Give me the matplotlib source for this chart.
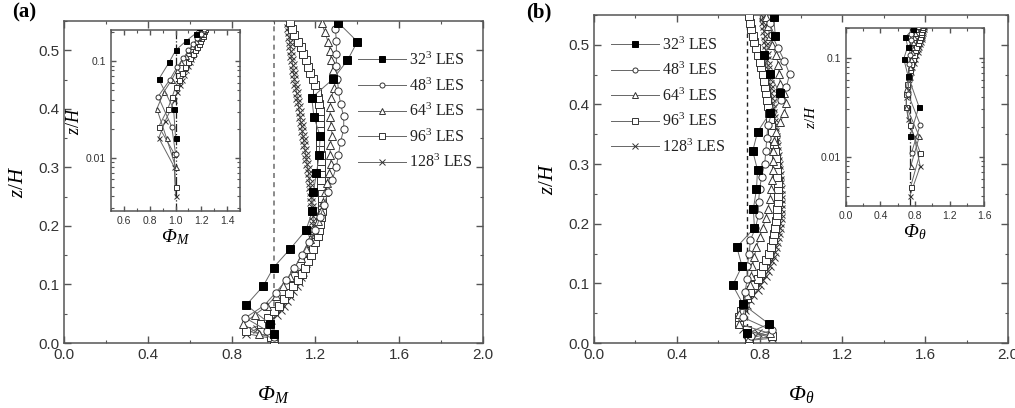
import matplotlib
matplotlib.use('Agg')
import matplotlib.pyplot as plt
from matplotlib.ticker import MultipleLocator, LogLocator, FuncFormatter, NullFormatter

plt.rcParams['mathtext.fontset'] = 'custom'
plt.rcParams['mathtext.rm'] = 'Liberation Serif'
plt.rcParams['mathtext.it'] = 'Liberation Serif:italic'
plt.rcParams['mathtext.bf'] = 'Liberation Serif:bold'
plt.rcParams['mathtext.sf'] = 'Liberation Serif:italic'
plt.rcParams['font.family'] = ['Liberation Sans', 'DejaVu Sans']

# ---------------- data ----------------
series_labels = ['32$^3$ LES', '48$^3$ LES', '64$^3$ LES', '96$^3$ LES', '128$^3$ LES']

z32 = [0.016, 0.032, 0.065, 0.097, 0.129, 0.161, 0.193, 0.225, 0.258, 0.290,
       0.322, 0.354, 0.386, 0.419, 0.451, 0.483, 0.515, 0.547]
z48 = [0.011, 0.021, 0.043, 0.064, 0.086, 0.107, 0.129, 0.150, 0.172, 0.193,
       0.215, 0.236, 0.258, 0.279, 0.301, 0.322, 0.344, 0.365, 0.387, 0.408,
       0.430, 0.451, 0.473, 0.494, 0.516, 0.537]
z64 = [0.008, 0.016, 0.032, 0.048, 0.064, 0.080, 0.097, 0.113, 0.129, 0.145,
       0.161, 0.177, 0.193, 0.209, 0.225, 0.241, 0.258, 0.274, 0.290, 0.306,
       0.322, 0.338, 0.354, 0.370, 0.386, 0.403, 0.419, 0.435, 0.451, 0.467,
       0.483, 0.499, 0.515, 0.531, 0.547]
z96 = [0.005, 0.011, 0.021, 0.032, 0.043, 0.054, 0.064, 0.075, 0.086, 0.097,
       0.107, 0.118, 0.129, 0.140, 0.150, 0.161, 0.172, 0.182, 0.193, 0.204,
       0.215, 0.225, 0.236, 0.247, 0.258, 0.268, 0.279, 0.290, 0.300, 0.311,
       0.322, 0.333, 0.343, 0.354, 0.365, 0.376, 0.386, 0.397, 0.408, 0.419,
       0.429, 0.440, 0.451, 0.462, 0.472, 0.483, 0.494, 0.505, 0.515, 0.526,
       0.537, 0.548]
z128 = [0.004, 0.008, 0.016, 0.024, 0.032, 0.040, 0.048, 0.056, 0.064, 0.072,
        0.081, 0.089, 0.097, 0.105, 0.113, 0.121, 0.129, 0.137, 0.145, 0.153,
        0.161, 0.169, 0.177, 0.185, 0.193, 0.201, 0.209, 0.217, 0.225, 0.233,
        0.241, 0.249, 0.258, 0.266, 0.274, 0.282, 0.290, 0.298, 0.306, 0.314,
        0.322, 0.330, 0.338, 0.346, 0.354, 0.362, 0.370, 0.378, 0.386, 0.394,
        0.403, 0.411, 0.419, 0.427, 0.435, 0.443, 0.451, 0.459, 0.467, 0.475,
        0.483, 0.491, 0.499, 0.507, 0.515, 0.523, 0.531, 0.539, 0.547]

# Phi_M (panel a)
phiM_32 = [1.00, 0.985, 0.87, 0.95, 1.00, 1.08, 1.155, 1.185, 1.19, 1.205,
           1.218, 1.222, 1.193, 1.182, 1.284, 1.353, 1.40, 1.31]
phiM_48 = [1.00, 0.97, 0.865, 0.955, 1.01, 1.06, 1.10, 1.135, 1.17, 1.20,
           1.222, 1.24, 1.262, 1.28, 1.30, 1.31, 1.32, 1.335, 1.335, 1.32,
           1.31, 1.305, 1.30, 1.30, 1.30, 1.295]
phiM_64 = [1.00, 0.93, 0.855, 0.91, 0.97, 1.01, 1.045, 1.08, 1.10, 1.13,
           1.155, 1.175, 1.195, 1.21, 1.225, 1.235, 1.245, 1.255, 1.265, 1.275,
           1.27, 1.27, 1.28, 1.275, 1.27, 1.27, 1.275, 1.29, 1.295, 1.285,
           1.275, 1.27, 1.26, 1.245, 1.23]
phiM_96 = [1.00, 0.99, 0.87, 0.94, 0.975, 1.00, 1.025, 1.05, 1.075, 1.095,
           1.115, 1.135, 1.15, 1.165, 1.18, 1.19, 1.20, 1.21, 1.215, 1.22,
           1.225, 1.23, 1.233, 1.233, 1.23, 1.228, 1.226, 1.225, 1.225, 1.225,
           1.225, 1.224, 1.222, 1.222, 1.22, 1.22, 1.22, 1.22, 1.218, 1.214,
           1.206, 1.198, 1.188, 1.175, 1.165, 1.155, 1.142, 1.13, 1.115, 1.10,
           1.09, 1.08]
phiM_128 = [1.00, 0.99, 0.87, 0.92, 0.965, 0.99, 1.015, 1.035, 1.05, 1.063,
            1.08, 1.095, 1.11, 1.12, 1.13, 1.14, 1.148, 1.155, 1.165, 1.17,
            1.175, 1.18, 1.185, 1.188, 1.19, 1.19, 1.19, 1.188, 1.186, 1.184,
            1.18, 1.18, 1.178, 1.175, 1.172, 1.17, 1.167, 1.164, 1.16, 1.157,
            1.154, 1.15, 1.147, 1.144, 1.14, 1.137, 1.134, 1.13, 1.127, 1.124,
            1.12, 1.117, 1.114, 1.11, 1.107, 1.104, 1.10, 1.097, 1.094, 1.091,
            1.088, 1.085, 1.082, 1.08, 1.077, 1.075, 1.072, 1.07, 1.068]

# Phi_theta (panel b)
phiH_32 = [0.74, 0.845, 0.72, 0.67, 0.715, 0.69, 0.775, 0.77, 0.785, 0.79,
           0.767, 0.79, 0.85, 0.897, 0.85, 0.82, 0.876, 0.868]
phiH_48 = [0.76, 0.86, 0.72, 0.73, 0.73, 0.74, 0.74, 0.75, 0.755, 0.78,
           0.795, 0.795, 0.80, 0.81, 0.825, 0.83, 0.835, 0.84, 0.86, 0.905,
           0.93, 0.945, 0.92, 0.89, 0.86, 0.85]
phiH_64 = [0.75, 0.85, 0.70, 0.70, 0.72, 0.74, 0.755, 0.76, 0.765, 0.775,
           0.785, 0.80, 0.815, 0.83, 0.84, 0.85, 0.855, 0.86, 0.865, 0.865,
           0.865, 0.87, 0.88, 0.90, 0.92, 0.93, 0.92, 0.90, 0.895, 0.89,
           0.88, 0.86, 0.85, 0.84, 0.83]
phiH_96 = [0.75, 0.86, 0.74, 0.70, 0.70, 0.71, 0.725, 0.74, 0.755, 0.775,
           0.79, 0.805, 0.815, 0.83, 0.845, 0.855, 0.865, 0.87, 0.875, 0.88,
           0.885, 0.885, 0.89, 0.89, 0.89, 0.89, 0.885, 0.885, 0.88, 0.88,
           0.875, 0.87, 0.865, 0.86, 0.855, 0.85, 0.845, 0.84, 0.835, 0.83,
           0.825, 0.82, 0.815, 0.805, 0.80, 0.79, 0.785, 0.775, 0.77, 0.76,
           0.755, 0.75]
phiH_128 = [0.74, 0.86, 0.79, 0.72, 0.70, 0.70, 0.715, 0.73, 0.74, 0.755,
            0.77, 0.79, 0.80, 0.815, 0.83, 0.84, 0.85, 0.86, 0.87, 0.875,
            0.88, 0.885, 0.89, 0.895, 0.90, 0.90, 0.905, 0.905, 0.905, 0.905,
            0.905, 0.905, 0.905, 0.90, 0.90, 0.90, 0.895, 0.895, 0.89, 0.89,
            0.885, 0.885, 0.88, 0.88, 0.875, 0.875, 0.87, 0.87, 0.865, 0.865,
            0.86, 0.86, 0.855, 0.855, 0.85, 0.85, 0.845, 0.84, 0.84, 0.835,
            0.835, 0.83, 0.83, 0.825, 0.825, 0.82, 0.82, 0.815, 0.815]

z_all = [z32, z48, z64, z96, z128]
phiM_all = [phiM_32, phiM_48, phiM_64, phiM_96, phiM_128]
phiH_all = [phiH_32, phiH_48, phiH_64, phiH_96, phiH_128]

phiM_ref = 1.0
phiH_ref = 0.74

# ---------------- style ----------------
markers = ['s', 'o', '^', 's', 'x']
faces = ['black', 'white', 'white', 'white', 'none']
spine_c = '#555555'
line_c = '#666666'
edge_c = '#333333'
serif = ['Liberation Serif', 'DejaVu Serif']
LAB_M = r'$\mathsf{Φ}_{\mathit{M}}$'
LAB_T = r'$\mathsf{Φ}_{\mathit{θ}}$'


def style_axes(ax, fs=10):
    for s in ax.spines.values():
        s.set_color(spine_c)
        s.set_linewidth(1.1)
    ax.tick_params(which='both', direction='in', top=True, right=True,
                   colors=spine_c, labelcolor='#333333', labelsize=fs)
    ax.tick_params(which='major', length=5, width=1.0)
    ax.tick_params(which='minor', length=2.5, width=0.8)


def draw_series(ax, xs_all, ms):
    for i, (z, x) in enumerate(zip(z_all, xs_all)):
        ax.plot(x, z, color=line_c, lw=0.7, marker=markers[i], ms=ms,
                mfc=faces[i], mec=edge_c if i else 'black', mew=0.7,
                label=series_labels[i], zorder=3 + (4 - i) * 0.1)


fig = plt.figure(figsize=(10.15, 4.08), dpi=100)
axA = fig.add_axes([0.0631, 0.1593, 0.4128, 0.789])
axB = fig.add_axes([0.5852, 0.1593, 0.4079, 0.8039])
insA = fig.add_axes([0.1094, 0.4828, 0.1271, 0.4436])
insB = fig.add_axes([0.8332, 0.4958, 0.1366, 0.4363])

leg_kw = dict(loc='upper left', frameon=False, numpoints=1, handlelength=3.0,
              handletextpad=0.2, labelspacing=0.52, borderaxespad=0,
              borderpad=0, markerscale=0.7,
              prop={'family': serif, 'size': 11.5})

# ---- main panel (a)
draw_series(axA, phiM_all, 5.2)
axA.axvline(phiM_ref, color='#777777', ls=(0, (3, 2.5)), lw=1.2, zorder=1)
axA.set_xlim(0, 2.0)
axA.set_ylim(0, 0.55)
axA.xaxis.set_major_locator(MultipleLocator(0.4))
axA.xaxis.set_minor_locator(MultipleLocator(0.2))
axA.yaxis.set_major_locator(MultipleLocator(0.1))
axA.yaxis.set_minor_locator(MultipleLocator(0.05))
axA.xaxis.set_major_formatter(FuncFormatter(lambda v, p: f'{v:.1f}'))
axA.yaxis.set_major_formatter(FuncFormatter(lambda v, p: f'{v:.1f}'))
style_axes(axA, 11)
axA.set_xlabel(LAB_M, fontsize=16, labelpad=16)
axA.set_ylabel(r'$z/H$', fontsize=15, labelpad=8)
legA = axA.legend(bbox_to_anchor=(0.702, 0.905), **leg_kw)

# ---- main panel (b)
draw_series(axB, phiH_all, 5.2)
axB.axvline(phiH_ref, color='#222222', ls=(0, (3, 2.5)), lw=1.0, zorder=1)
axB.set_xlim(0, 2.0)
axB.set_ylim(0, 0.55)
axB.xaxis.set_major_locator(MultipleLocator(0.4))
axB.xaxis.set_minor_locator(MultipleLocator(0.2))
axB.yaxis.set_major_locator(MultipleLocator(0.1))
axB.yaxis.set_minor_locator(MultipleLocator(0.05))
axB.xaxis.set_major_formatter(FuncFormatter(lambda v, p: f'{v:.1f}'))
axB.yaxis.set_major_formatter(FuncFormatter(lambda v, p: f'{v:.1f}'))
style_axes(axB, 11)
axB.set_xlabel(LAB_T, fontsize=16, labelpad=16)
axB.set_ylabel(r'$z/H$', fontsize=15, labelpad=8)
legB = axB.legend(bbox_to_anchor=(0.041, 0.935), **leg_kw)
for leg in (legA, legB):
    for t in leg.get_texts():
        t.set_color('#222222')


def log_fmt(v, p):
    return '0.1' if abs(v - 0.1) < 1e-9 else ('0.01' if abs(v - 0.01) < 1e-9 else '')


# ---- inset (a)
draw_series(insA, phiM_all, 3.6)
insA.axvline(phiM_ref, color='#222222', ls='-.', lw=0.9, zorder=1)
insA.set_yscale('log')
insA.set_xlim(0.5, 1.5)
insA.set_ylim(0.0028, 0.21)
insA.xaxis.set_major_locator(MultipleLocator(0.2))
insA.xaxis.set_minor_locator(MultipleLocator(0.1))
insA.xaxis.set_major_formatter(FuncFormatter(lambda v, p: f'{v:.1f}'))
insA.yaxis.set_major_locator(LogLocator(base=10))
insA.yaxis.set_minor_locator(LogLocator(base=10, subs=range(2, 10)))
insA.yaxis.set_major_formatter(FuncFormatter(log_fmt))
insA.yaxis.set_minor_formatter(NullFormatter())
style_axes(insA, 7.5)
insA.tick_params(which='major', length=3.5)
insA.tick_params(which='minor', length=2)
insA.set_xlabel(LAB_M, fontsize=14, labelpad=1)
insA.set_ylabel(r'$z/H$', fontsize=13, labelpad=2)

# ---- inset (b)
draw_series(insB, phiH_all, 3.6)
insB.axvline(phiH_ref, color='#222222', ls='-.', lw=0.9, zorder=1)
insB.set_yscale('log')
insB.set_xlim(0.0, 1.6)
insB.set_ylim(0.0032, 0.2)
insB.xaxis.set_major_locator(MultipleLocator(0.4))
insB.xaxis.set_minor_locator(MultipleLocator(0.2))
insB.xaxis.set_major_formatter(FuncFormatter(lambda v, p: f'{v:.1f}'))
insB.yaxis.set_major_locator(LogLocator(base=10))
insB.yaxis.set_minor_locator(LogLocator(base=10, subs=range(2, 10)))
insB.yaxis.set_major_formatter(FuncFormatter(log_fmt))
insB.yaxis.set_minor_formatter(NullFormatter())
style_axes(insB, 7.5)
insB.tick_params(which='major', length=3.5)
insB.tick_params(which='minor', length=2)
insB.set_xlabel(LAB_T, fontsize=14, labelpad=1)
insB.set_ylabel(r'$z/H$', fontsize=11, labelpad=2)

# ---- panel labels
fig.text(0.012, 0.995, '(a)', family=serif, weight='bold', fontsize=15,
         va='top', ha='left')
fig.text(0.518, 0.995, '(b)', family=serif, weight='bold', fontsize=15,
         va='top', ha='left')

fig.savefig('out.png', dpi=100)
